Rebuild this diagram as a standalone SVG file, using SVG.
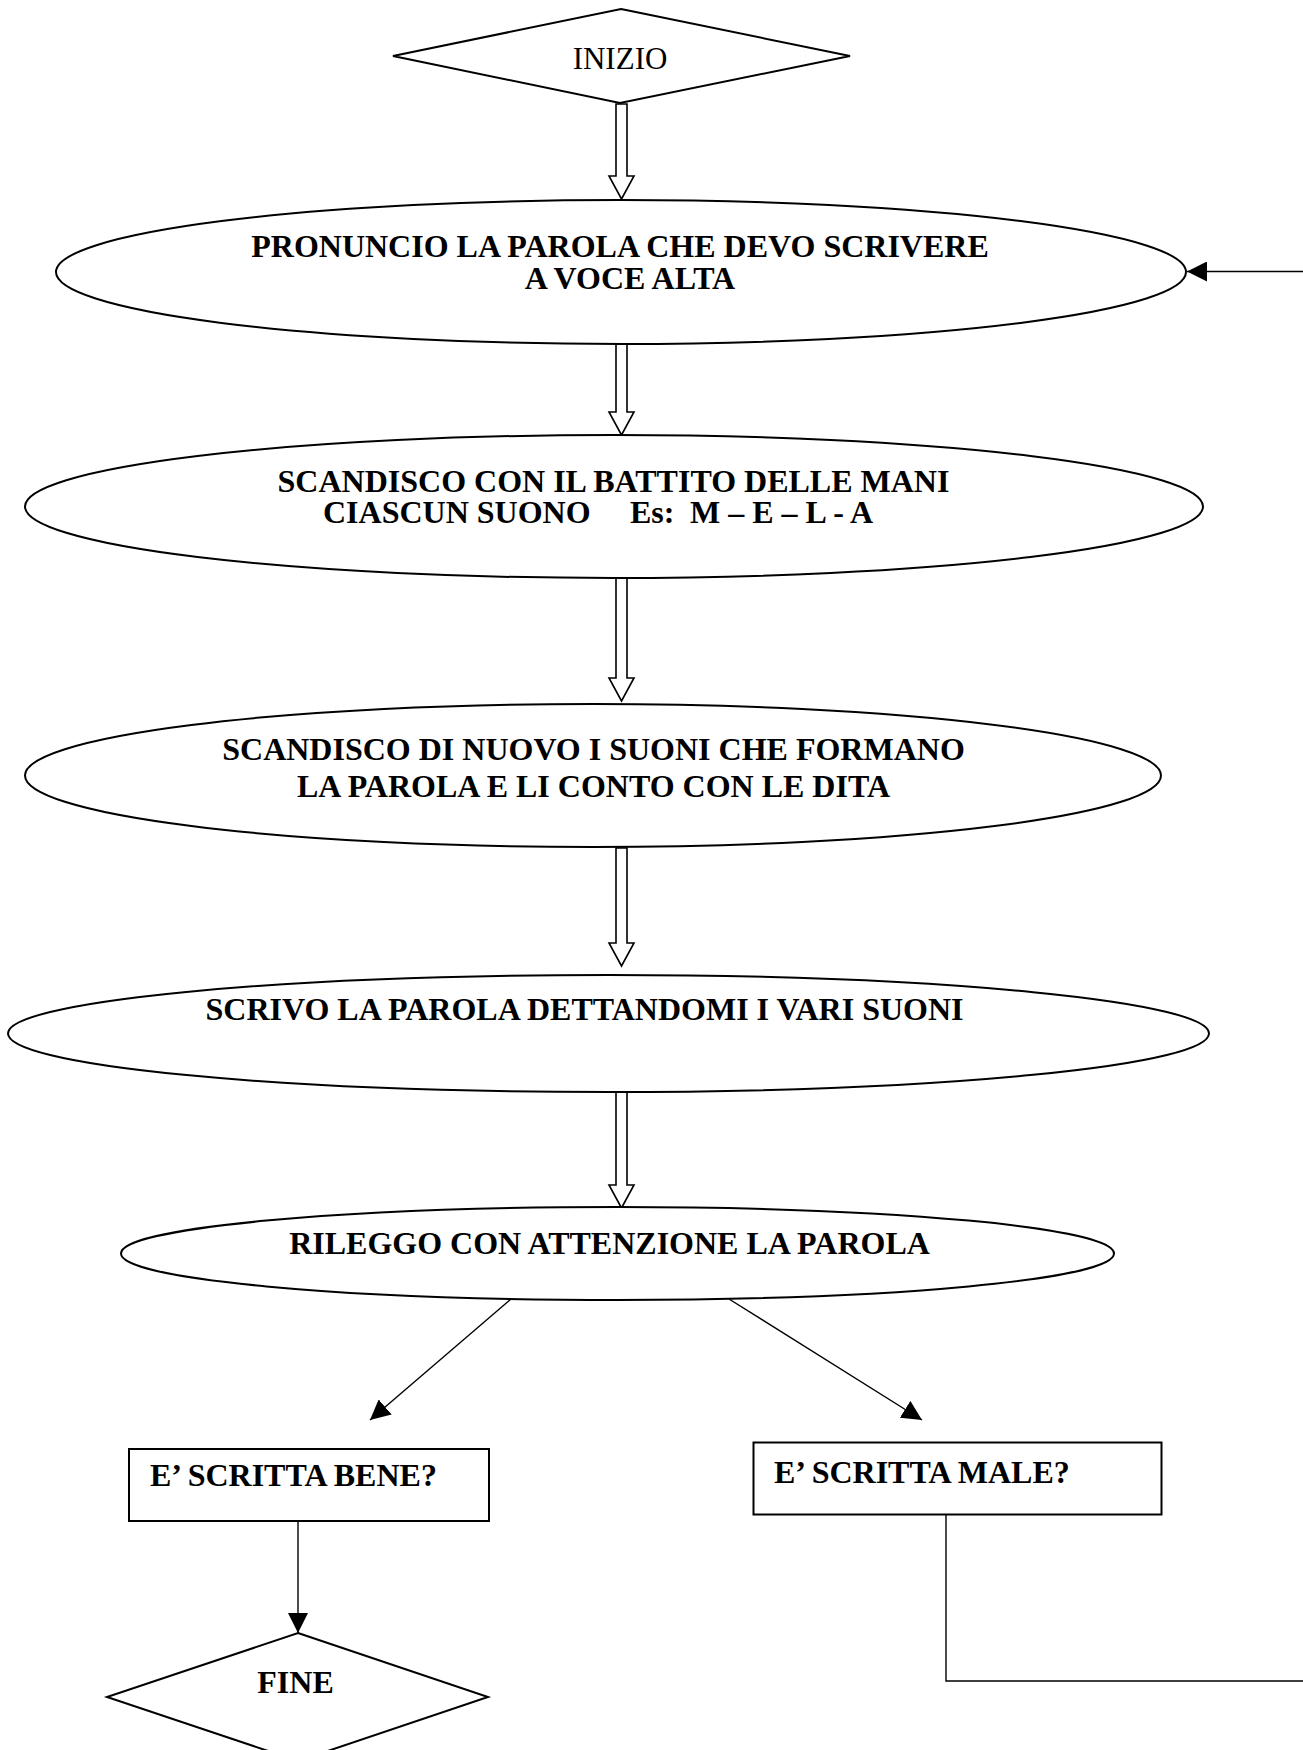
<svg xmlns="http://www.w3.org/2000/svg" width="1303" height="1750" viewBox="0 0 1303 1750">
<defs>
<style>
.shape{fill:#fff;stroke:#000;stroke-width:2}
.blk{fill:#fff;stroke:#000;stroke-width:1.6;stroke-linejoin:miter}
.ln{fill:none;stroke:#000;stroke-width:1.4}
.t{font-family:"Liberation Serif","Times New Roman",serif;font-size:32px;font-weight:bold;fill:#000}
.tr{font-family:"Liberation Serif","Times New Roman",serif;font-size:31px;fill:#000}
</style>
<marker id="ah" viewBox="0 0 20 20" refX="20" refY="10" markerWidth="20" markerHeight="20" markerUnits="userSpaceOnUse" orient="auto">
<path d="M0,0 L20,10 L0,20 Z" fill="#000"/>
</marker>
</defs>
<rect width="1303" height="1750" fill="#fff"/>
<g id="connectors">
<polygon class="blk" points="616,104 627,104 627,176 634,176 621.5,199 609,176 616,176"/>
<polygon class="blk" points="616,344 627,344 627,412 634,412 621.5,435 609,412 616,412"/>
<polygon class="blk" points="616,578 627,578 627,678 634,678 621.5,701 609,678 616,678"/>
<polygon class="blk" points="616,848 627,848 627,943 634,943 621.5,966 609,943 616,943"/>
<polygon class="blk" points="616,1088 627,1088 627,1185 634,1185 621.5,1208 609,1185 616,1185"/>
<line class="ln" x1="511" y1="1299" x2="370" y2="1420" marker-end="url(#ah)"/>
<line class="ln" x1="729" y1="1299" x2="922" y2="1420" marker-end="url(#ah)"/>
<line class="ln" x1="298" y1="1521" x2="298" y2="1633" marker-end="url(#ah)"/>
<path class="ln" d="M946,1514 V1681 H1308 V271.5 H1187" marker-end="url(#ah)"/>
</g>
<g id="inizio">
<polygon class="shape" points="621,9 850,56 620,103 393,56"/>
<text class="tr" x="620" y="68.5" text-anchor="middle">INIZIO</text>
</g>
<g id="pronuncio">
<ellipse class="shape" cx="621" cy="272" rx="565" ry="72"/>
<text class="t" x="620" y="257" text-anchor="middle">PRONUNCIO LA PAROLA CHE DEVO SCRIVERE</text>
<text class="t" x="630" y="288.5" text-anchor="middle">A VOCE ALTA</text>
</g>
<g id="scandisco1">
<ellipse class="shape" cx="614" cy="506.5" rx="589" ry="71.5"/>
<text class="t" x="613.5" y="491.5" text-anchor="middle">SCANDISCO CON IL BATTITO DELLE MANI</text>
<text class="t" y="523"><tspan x="323">CIASCUN SUONO</tspan><tspan x="630">Es:</tspan><tspan x="690">M – E – L - A</tspan></text>
</g>
<g id="scandisco2">
<ellipse class="shape" cx="593" cy="775.5" rx="568" ry="71.5"/>
<text class="t" x="593.5" y="759.5" text-anchor="middle">SCANDISCO DI NUOVO I SUONI CHE FORMANO</text>
<text class="t" x="593.5" y="796.5" text-anchor="middle">LA PAROLA E LI CONTO CON LE DITA</text>
</g>
<g id="scrivo">
<ellipse class="shape" cx="608.5" cy="1033.5" rx="600.5" ry="58.5"/>
<text class="t" x="584.5" y="1020" text-anchor="middle">SCRIVO LA PAROLA DETTANDOMI I VARI SUONI</text>
</g>
<g id="rileggo">
<ellipse class="shape" cx="617.5" cy="1253.5" rx="496.5" ry="46.5"/>
<text class="t" x="609.5" y="1254" text-anchor="middle">RILEGGO CON ATTENZIONE LA PAROLA</text>
</g>
<g id="bene">
<rect class="shape" x="129" y="1449" width="360" height="72"/>
<text class="t" x="150" y="1485.5">E’ SCRITTA BENE?</text>
</g>
<g id="male">
<rect class="shape" x="753.5" y="1442.5" width="408" height="72"/>
<text class="t" x="774" y="1483">E’ SCRITTA MALE?</text>
</g>
<g id="fine">
<polygon class="shape" points="298,1633 488,1697 298,1761 107,1697"/>
<text class="t" x="295.5" y="1693" text-anchor="middle">FINE</text>
</g>
</svg>
